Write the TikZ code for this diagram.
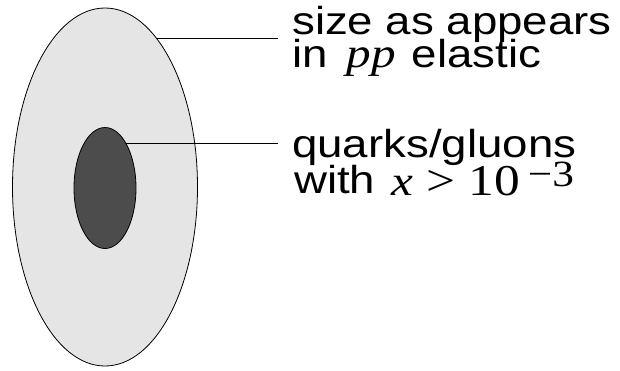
\documentclass[tikz,border=0pt]{standalone}
\usepackage{fontspec}
\setmainfont{Liberation Sans}
\newfontfamily\serifmath{Liberation Serif}
\usetikzlibrary{shapes.geometric}
\tikzset{
  blob/.style={draw, ellipse, inner sep=0pt, outer sep=0pt, line width=0.8pt},
  outerblob/.style={blob, fill=black!10, minimum width=185pt, minimum height=358pt},
  innerblob/.style={blob, fill=black!70, minimum width=62pt, minimum height=121pt},
  lbl/.style={anchor=base west, inner sep=0pt, font=\fontsize{39}{39}\selectfont},
  leader/.style={line width=0.8pt},
}
\newcommand{\wide}[1]{\scalebox{1.17}[1]{#1}}
\newcommand{\mvar}[1]{{\fontsize{42}{42}\selectfont\serifmath\itshape #1}}
\newcommand{\mrm}[1]{{\fontsize{44}{44}\selectfont\serifmath #1}}
\newcommand{\expo}[1]{\raisebox{7pt}{\fontsize{37}{37}\selectfont\serifmath #1}}

\begin{document}
\begin{tikzpicture}[x=1pt, y=-1pt]
  \useasboundingbox (0,0) rectangle (620,370);
  % proton and its dense core
  \node[outerblob] (proton) at (105,187) {};
  \node[innerblob] (core) at (105,188) {};
  \coordinate (sizetip) at (278,38);
  \coordinate (coretip) at (278,143);
  \draw[leader] (proton.71) -- (proton.71 -| sizetip);
  \draw[leader] (core.65) -- (core.65 -| coretip);
  % labels
  \node[lbl] (size1) at (292,34) {\wide{size as appears}};
  \node[lbl] (size2) at (292,67) {\wide{in\hspace{16pt}\mvar{pp}\hspace{14pt}elastic}};
  \node[lbl] (quark1) at (292,157) {\wide{quarks/gluons}};
  \node[lbl] (quark2) at (294,193) {\wide{with\hspace{14pt}\raisebox{-2pt}{\mvar{x}\hspace{11pt}\mrm{>}\hspace{11pt}\mrm{10}}\hspace{7pt}\expo{−3}}};
\end{tikzpicture}
\end{document}
